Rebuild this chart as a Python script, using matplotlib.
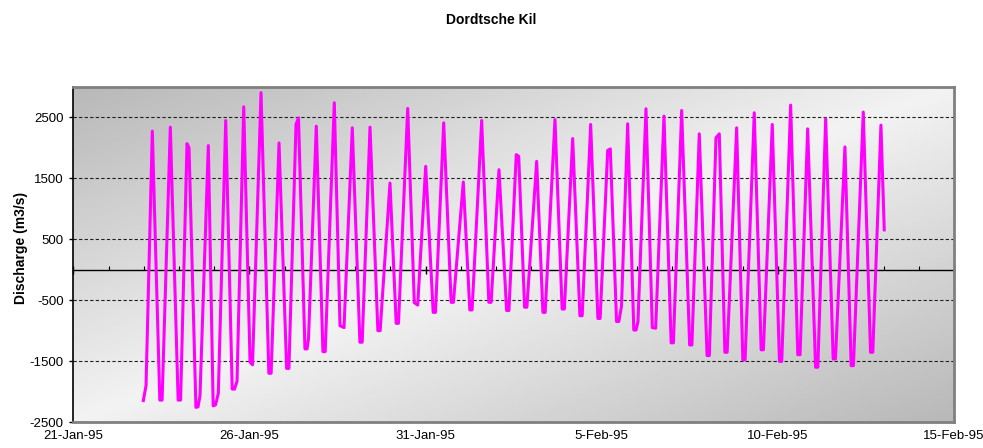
import numpy as np
import pandas as pd
import matplotlib
matplotlib.use("Agg")
import matplotlib.pyplot as plt
import matplotlib.dates as mdates

# Dordtsche Kil discharge, turning points
# time in days after 21-Jan-95 00:00
days = [1.987, 2.064, 2.242, 2.455, 2.520, 2.753, 2.975, 3.045, 3.227, 3.284,
        3.480, 3.540, 3.596, 3.832, 3.970, 4.035, 4.116, 4.326, 4.510, 4.575,
        4.647, 4.837, 5.016, 5.087, 5.328, 5.550, 5.615, 5.839, 6.055, 6.120,
        6.321, 6.392, 6.575, 6.635, 6.676, 6.897, 7.085, 7.150, 7.408, 7.570,
        7.684, 7.919, 8.135, 8.200, 8.422, 8.645, 8.710, 8.989, 9.165, 9.230,
        9.492, 9.679, 9.776, 10.003, 10.215, 10.280, 10.514, 10.725, 10.790, 11.070,
        11.255, 11.320, 11.592, 11.795, 11.860, 12.083, 12.300, 12.365, 12.574, 12.643,
        12.810, 12.875, 13.153, 13.330, 13.395, 13.673, 13.875, 13.940, 14.175, 14.380,
        14.445, 14.686, 14.890, 14.955, 15.169, 15.243, 15.420, 15.485, 15.561, 15.736,
        15.910, 15.975, 16.029, 16.256, 16.435, 16.531, 16.767, 16.970, 17.035, 17.269,
        17.495, 17.560, 17.769, 17.990, 18.055, 18.243, 18.337, 18.495, 18.560, 18.830,
        19.005, 19.070, 19.330, 19.525, 19.590, 19.841, 20.045, 20.110, 20.363, 20.565,
        20.630, 20.846, 21.070, 21.135, 21.357, 21.570, 21.635, 21.904, 22.080, 22.145,
        22.424, 22.630, 22.695, 22.926, 23.020]

discharge = [-2148, -1900, 2275, -2140, -2140, 2341, -2140, -2140, 2070, 2000,
             -2260, -2250, -2066, 2038, -2235, -2220, -2030, 2450, -1960, -1960,
             -1830, 2675, -1516, -1560, 2907, -1700, -1700, 2082, -1620, -1620,
             2385, 2494, -1300, -1300, -1132, 2357, -1345, -1345, 2742, -920,
             -950, 2330, -1190, -1190, 2341, -1000, -1000, 1423, -880, -880,
             2648, -540, -580, 1698, -700, -700, 2412, -535, -535, 1440,
             -660, -660, 2451, -535, -535, 1643, -670, -670, 1890, 1862,
             -615, -615, 1780, -700, -700, 2467, -645, -645, 2154, -755,
             -755, 2385, -800, -800, 1960, 1984, -850, -850, -600, 2396,
             -990, -990, -850, 2643, -950, -960, 2522, -1200, -1200, 2615,
             -1235, -1235, 2231, -1410, -1410, 2165, 2231, -1355, -1355, 2330,
             -1480, -1480, 2577, -1315, -1315, 2385, -1505, -1505, 2703, -1395,
             -1395, 2313, -1600, -1600, 2478, -1465, -1465, 2016, -1575, -1575,
             2588, -1355, -1355, 2374, 654]

start = pd.Timestamp("1995-01-21")
end = pd.Timestamp("1995-02-15")
x_ticks = pd.date_range(start, end, freq="5D")
x_tick_labels = ["21-Jan-95", "26-Jan-95", "31-Jan-95", "5-Feb-95", "10-Feb-95", "15-Feb-95"]
y_ticks = [2500, 1500, 500, -500, -1500, -2500]

times = start + pd.to_timedelta(days, unit="D")

plt.rcParams["font.family"] = ["Liberation Sans", "DejaVu Sans"]
plt.rcParams["axes.unicode_minus"] = False

fig = plt.figure(figsize=(9.83, 4.48), dpi=100)
rect = [0.0746, 0.058, 0.8959, 0.7478]

# diagonal grey gradient behind the plot area
bg = fig.add_axes(rect, zorder=0)
gx, gy = np.meshgrid(np.linspace(0, 1, 400), np.linspace(0, 1, 200))
shade = 0.95 - 0.23 * np.abs(gx + gy - 1)
bg.imshow(shade, cmap="gray", vmin=0, vmax=1, aspect="auto", interpolation="bilinear")
bg.axis("off")

ax = fig.add_axes(rect, zorder=1)
ax.set_facecolor("none")

ax.plot(times, discharge, color="#ff00ff", lw=2.2, solid_joinstyle="round", zorder=3)

ax.set_xlim(start, end)
ax.set_ylim(-2500, 3000)

ax.set_xticks(x_ticks)
ax.set_xticklabels(x_tick_labels)
ax.set_yticks(y_ticks)
ax.tick_params(axis="x", length=0, pad=6, labelsize=9.5)
ax.tick_params(axis="y", length=3, width=1, direction="out", pad=4, labelsize=9.5)
ax.yaxis.grid(True, ls=(0, (3, 2)), color="#202020", lw=0.8)

for side in ["top", "right", "bottom"]:
    ax.spines[side].set_color("#808080")
    ax.spines[side].set_linewidth(2)
ax.spines["left"].set_color("black")
ax.spines["left"].set_linewidth(1.2)

# category axis crossing at zero, daily minor ticks
zero = ax.secondary_xaxis(2500 / 5500)
zero.set_xticks(mdates.date2num(x_ticks))
zero.xaxis.set_minor_locator(mdates.DayLocator())
zero.tick_params(which="major", direction="inout", length=6, width=1, labelbottom=False)
zero.tick_params(which="minor", direction="in", length=3, width=0.8)
zero.spines["bottom"].set_color("black")
zero.spines["bottom"].set_linewidth(1)

ax.set_ylabel("Discharge (m3/s)", fontweight="bold", fontsize=10)
ax.yaxis.set_label_coords(-0.052, 0.52)

fig.text(0.5, 1 - 20 / 448, "Dordtsche Kil", ha="center", va="center",
         fontweight="bold", fontsize=10)

fig.savefig("out.png", dpi=100)
